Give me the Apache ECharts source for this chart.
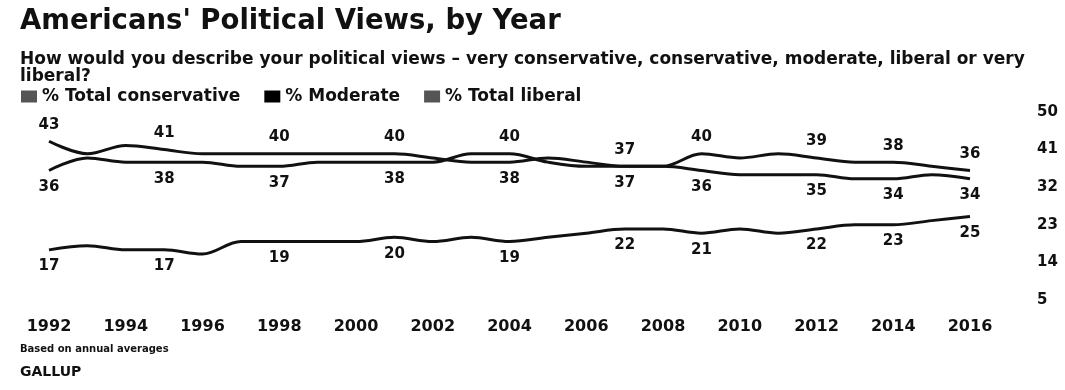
<!DOCTYPE html>
<html>
<head>
<meta charset="utf-8">
<script src="https://cdn.jsdelivr.net/npm/echarts@6/dist/echarts.min.js"></script>
<style>
  html, body { margin: 0; padding: 0; background: #fff; }
  #chart { width: 1065px; height: 390px; }
</style>
</head>
<body>
<div id="chart"></div>
<script>
// 年份
const years = ['1992', '1993', '1994', '1995', '1996', '1997', '1998', '1999', '2000', '2001', '2002', '2003', '2004',
  '2005', '2006', '2007', '2008', '2009', '2010', '2011', '2012', '2013', '2014', '2015', '2016']
// 三条线的数据
const conservative = [36, 39, 38, 38, 38, 37, 37, 38, 38, 38, 38, 40, 40, 38, 37, 37, 37, 40, 39, 40, 39, 38, 38, 37, 36]
const moderate = [43, 40, 42, 41, 40, 40, 40, 40, 40, 40, 39, 38, 38, 39, 38, 37, 37, 36, 35, 35, 35, 34, 34, 35, 34]
const liberal = [17, 18, 17, 17, 16, 19, 19, 19, 19, 20, 19, 20, 19, 20, 21, 22, 22, 21, 22, 21, 22, 23, 23, 24, 25]
// 显示数值的年份
const labelYears = ['1992', '1995', '1998', '2001', '2004', '2007', '2009', '2012', '2014', '2016']
// 右侧刻度
const yTicks = [5, 14, 23, 32, 41, 50]

const FONT = 'DejaVu Sans'
const INK = '#111'

// 上面那条线的数值标在上方，下面的标在下方
function withLabels (values, other, preferTop) {
  return values.map((v, i) => {
    if (labelYears.indexOf(years[i]) < 0) return v
    let pos = 'bottom'
    if (other) {
      pos = (v > other[i] || (v === other[i] && preferTop)) ? 'top' : 'bottom'
    }
    return { value: v, label: { show: true, position: pos } }
  })
}

function lineSeries (name, data) {
  return {
    name: name,
    type: 'line',
    data: data,
    smooth: 0.35,
    symbol: 'circle',
    symbolSize: 0,
    color: INK,
    lineStyle: { color: INK, width: 3 },
    label: {
      show: false,
      fontFamily: FONT,
      fontSize: 15,
      fontWeight: 'bold',
      color: INK,
      distance: 9
    }
  }
}

const chart = echarts.init(document.getElementById('chart'))
chart.setOption({
  animation: false,
  backgroundColor: '#fff',
  title: [
    {
      text: "Americans' Political Views, by Year",
      left: 15, top: 3,
      textStyle: { fontFamily: FONT, fontSize: 27.5, fontWeight: 'bold', color: INK }
    },
    {
      text: 'How would you describe your political views – very conservative, conservative, moderate, liberal or very\nliberal?',
      left: 15, top: 46,
      textStyle: { fontFamily: FONT, fontSize: 17, fontWeight: 'bold', color: INK, lineHeight: 17 }
    },
    {
      text: 'Based on annual averages',
      left: 15, top: 339,
      textStyle: { fontFamily: FONT, fontSize: 10, fontWeight: 'bold', color: INK }
    },
    {
      text: 'GALLUP',
      left: 15, top: 360,
      textStyle: { fontFamily: FONT, fontSize: 14, fontWeight: 'bold', color: INK }
    }
  ],
  legend: {
    left: 16, top: 83,
    icon: 'rect',
    itemWidth: 16, itemHeight: 12, itemGap: 24,
    textStyle: { fontFamily: FONT, fontSize: 17, fontWeight: 'bold', color: INK },
    data: [
      { name: '% Total conservative', itemStyle: { color: '#555' } },
      { name: '% Moderate', itemStyle: { color: '#000' } },
      { name: '% Total liberal', itemStyle: { color: '#555' } }
    ]
  },
  grid: { left: 49, right: 95, top: 112, bottom: 90 },
  xAxis: {
    type: 'category',
    boundaryGap: false,
    data: years,
    axisLine: { show: false },
    axisTick: { show: false },
    axisLabel: {
      interval: 1,
      margin: 19,
      fontFamily: FONT, fontSize: 16, fontWeight: 'bold', color: INK
    }
  },
  yAxis: {
    type: 'value',
    position: 'right',
    min: 5,
    max: 50,
    splitLine: { show: false },
    axisLine: { show: false },
    axisTick: { show: false },
    axisLabel: {
      customValues: yTicks,
      margin: 67,
      align: 'left',
      fontFamily: FONT, fontSize: 15, fontWeight: 'bold', color: INK
    }
  },
  series: [
    lineSeries('% Total conservative', withLabels(conservative, moderate, false)),
    lineSeries('% Moderate', withLabels(moderate, conservative, true)),
    lineSeries('% Total liberal', withLabels(liberal, null, false))
  ]
})
</script>
</body>
</html>
